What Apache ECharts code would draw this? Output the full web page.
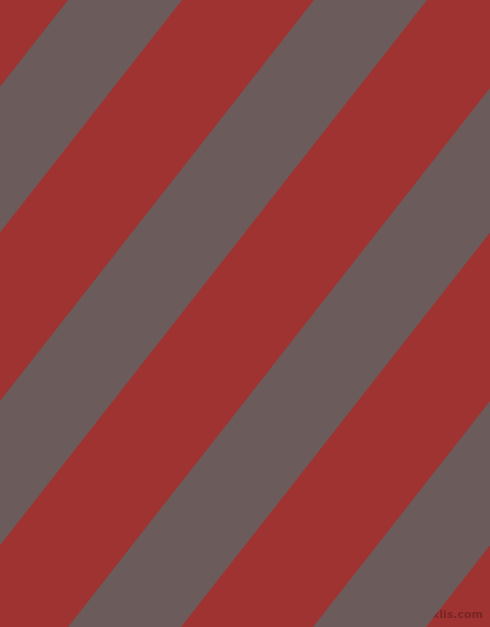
<!DOCTYPE html>
<html>
<head>
<meta charset="utf-8">
<script src="https://cdn.jsdelivr.net/npm/echarts@6/dist/echarts.min.js"></script>
<style>
    html, body { margin: 0; padding: 0; }
    #chart { width: 490px; height: 627px; }
</style>
</head>
<body>
<div id="chart"></div>
<script>
// stripe edges, as x where the edge meets the top (y = 0)
let greyStarts = [68, 314, 559, 804];
let greyEnds = [182, 427, 672, 917];
// edges lean: x moves left this much per pixel going down
let slope = 0.783;

let width = 490;
let height = 627;

let red = '#9f3331';
let grey = '#6b5b5b';

let stripeData = greyStarts.map((s, i) => [s, greyEnds[i]]);

function renderStripe(params, api) {
    let c1 = api.value(0);
    let c2 = api.value(1);
    let points = [
        api.coord([c1, 0]),
        api.coord([c2, 0]),
        api.coord([c2 - slope * height, height]),
        api.coord([c1 - slope * height, height])
    ];
    return {
        type: 'polygon',
        shape: { points: points },
        style: { fill: grey }
    };
}

let chart = echarts.init(document.getElementById('chart'));

let option = {
    backgroundColor: red,
    animation: false,
    grid: { left: 0, right: 0, top: 0, bottom: 0 },
    xAxis: { type: 'value', min: 0, max: width, show: false },
    yAxis: { type: 'value', min: 0, max: height, inverse: true, show: false },
    series: [
        {
            type: 'custom',
            renderItem: renderStripe,
            clip: true,
            data: stripeData
        }
    ],
    graphic: [
        {
            type: 'text',
            right: 7,
            bottom: 6,
            style: {
                text: 'pixlis.com',
                fontSize: 11,
                fontWeight: 'bold',
                fontFamily: 'DejaVu Sans',
                fill: 'rgba(90,25,25,0.55)'
            }
        }
    ]
};

chart.setOption(option);
</script>
</body>
</html>
